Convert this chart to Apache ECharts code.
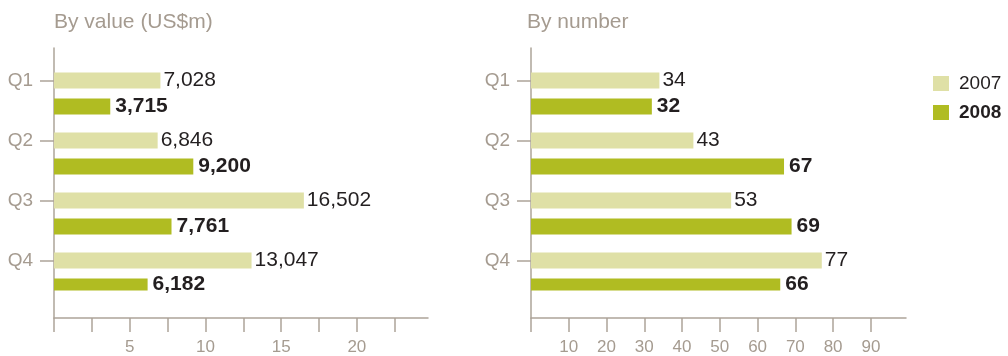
<!DOCTYPE html>
<html>
<head>
<meta charset="utf-8">
<script src="https://cdn.jsdelivr.net/npm/echarts@6/dist/echarts.min.js"></script>
<style>html,body{margin:0;padding:0;background:#fff}#c{width:1008px;height:356px}</style>
</head>
<body>
<div id="c"></div>
<script>
var categories = ['Q1', 'Q2', 'Q3', 'Q4'];
var valueTitle = 'By value (US$m)';
var numberTitle = 'By number';
var value2007 = [7028, 6846, 16502, 13047];
var value2008 = [3715, 9200, 7761, 6182];
var number2007 = [34, 43, 53, 77];
var number2008 = [32, 67, 69, 66];
var valueTicks = [0, 2500, 5000, 7500, 10000, 12500, 15000, 17500, 20000, 22500];
var valueTickLabels = [5000, 10000, 15000, 20000];
var numberTicks = [0, 10, 20, 30, 40, 50, 60, 70, 80, 90];
var numberTickLabels = [10, 20, 30, 40, 50, 60, 70, 80, 90];
var valueMax = 24700;
var numberMax = 99.3;

var FONT = '"Liberation Sans", Arial, Helvetica, sans-serif';
var C07 = '#dfe0a6';
var C08 = '#b0bc22';
var AXIS = '#ada499';
var GREYTXT = '#a59b90';
var DARK = '#231f20';

function hiddenX(grid, max) {
  return {type: 'value', gridIndex: grid, min: 0, max: max, show: false};
}
function visibleX(grid, max, ticks, labels, fmt) {
  return {
    type: 'value', gridIndex: grid, min: 0, max: max,
    axisLine: {show: true, onZero: false, lineStyle: {color: AXIS, width: 1.5}},
    axisTick: {show: true, length: 14, customValues: ticks, lineStyle: {color: AXIS, width: 1.5}},
    axisLabel: {show: true, customValues: labels, margin: 21, color: GREYTXT, fontSize: 17, fontFamily: FONT, formatter: fmt},
    splitLine: {show: false}
  };
}
function catY(grid) {
  return {
    type: 'category', gridIndex: grid, data: categories, inverse: true,
    axisLine: {show: false},
    axisTick: {show: true, alignWithLabel: true, length: 14, lineStyle: {color: AXIS, width: 1.5}},
    axisLabel: {margin: 21, color: GREYTXT, fontSize: 19, fontFamily: FONT},
    splitLine: {show: false}
  };
}
function lineY(grid) {
  return {
    type: 'value', gridIndex: grid, min: 0, max: 1,
    axisLine: {show: true, onZero: false, lineStyle: {color: AXIS, width: 1.5}},
    axisTick: {show: false}, axisLabel: {show: false}, splitLine: {show: false}
  };
}
function barSeries(name, data, axis, color, bold, fmt) {
  return {
    type: 'bar', name: name, data: data, xAxisIndex: axis, yAxisIndex: axis,
    barWidth: 16, barGap: '62.5%',
    itemStyle: {color: color},
    label: {
      show: true, position: 'right', distance: bold ? 5 : 3,
      color: DARK, fontSize: 21, fontFamily: FONT, fontWeight: bold ? 'bold' : 'normal',
      formatter: fmt
    },
    silent: true
  };
}
function padSeries(axis) {
  return {type: 'bar', name: '_pad', data: [], xAxisIndex: axis, yAxisIndex: axis, barWidth: 16, barGap: '62.5%'};
}
var fmtThousands = function (p) { return p.value.toLocaleString('en-US'); };
var fmtPlain = function (p) { return String(p.value); };
var fmtAxisK = function (v) { return String(v / 1000); };

var option = {
  animation: false,
  title: [
    {text: valueTitle, left: 54, top: 12, padding: 0, textStyle: {color: GREYTXT, fontSize: 21, fontWeight: 'normal', fontFamily: FONT}},
    {text: numberTitle, left: 527, top: 12, padding: 0, textStyle: {color: GREYTXT, fontSize: 21, fontWeight: 'normal', fontFamily: FONT}}
  ],
  legend: {
    orient: 'vertical', left: 933, top: 74, padding: 0,
    itemWidth: 16, itemHeight: 15, itemGap: 10, icon: 'rect',
    textStyle: {color: DARK, fontSize: 19, fontFamily: FONT, padding: [0, 0, 0, 5]},
    data: [{name: '2007'}, {name: '2008', textStyle: {fontWeight: 'bold'}}],
    selectedMode: false
  },
  grid: [
    {left: 54, top: 50.5, width: 374, height: 240},
    {left: 54, top: 48, width: 374, height: 271},
    {left: 531, top: 50.5, width: 375, height: 240},
    {left: 531, top: 48, width: 375, height: 271}
  ],
  xAxis: [
    hiddenX(0, valueMax),
    visibleX(1, valueMax, valueTicks, valueTickLabels, fmtAxisK),
    hiddenX(2, numberMax),
    visibleX(3, numberMax, numberTicks, numberTickLabels, function (v) { return String(v); })
  ],
  yAxis: [catY(0), lineY(1), catY(2), lineY(3)],
  series: [
    padSeries(0),
    barSeries('2007', value2007, 0, C07, false, fmtThousands),
    barSeries('2008', value2008, 0, C08, true, fmtThousands),
    padSeries(2),
    barSeries('2007', number2007, 2, C07, false, fmtPlain),
    barSeries('2008', number2008, 2, C08, true, fmtPlain)
  ]
};
var chart = echarts.init(document.getElementById('c'), null, {renderer: 'canvas'});
chart.setOption(option);
</script>
</body>
</html>
